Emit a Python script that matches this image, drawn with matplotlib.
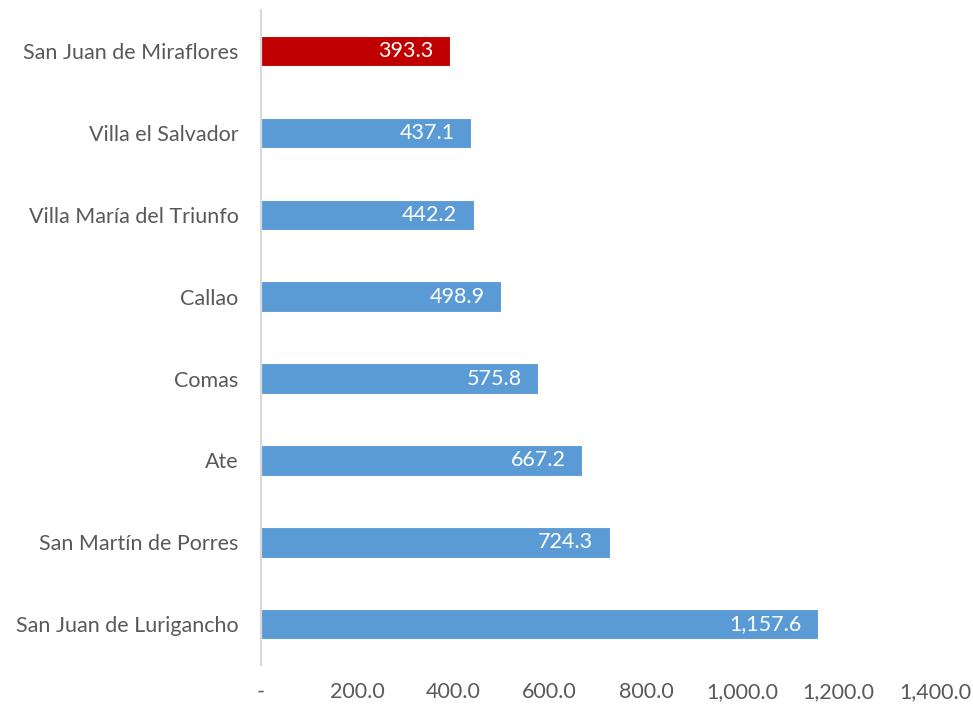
import matplotlib
matplotlib.use("Agg")
import matplotlib.pyplot as plt
from matplotlib.ticker import FuncFormatter

plt.rcParams['font.family'] = ['Lato', 'DejaVu Sans']

categories = ["San Juan de Lurigancho", "San Martín de Porres", "Ate", "Comas",
              "Callao", "Villa María del Triunfo", "Villa el Salvador",
              "San Juan de Miraflores"]
values = [1157.6, 724.3, 667.2, 575.8, 498.9, 442.2, 437.1, 393.3]
highlight = "San Juan de Miraflores"
xticks = [0, 200, 400, 600, 800, 1000, 1200, 1400]

blue = "#5B9BD5"
red = "#C00000"
gray = "#595959"

fig = plt.figure(figsize=(9.73, 7.07), dpi=100)
ax = fig.add_axes([0.268, 0.059, 0.693, 0.927])

colors = [red if c == highlight else blue for c in categories]
ypos = list(range(len(categories)))
bars = ax.barh(ypos, values, height=0.37, color=colors, edgecolor="white", linewidth=0.8)

for y, v in zip(ypos, values):
    ax.annotate(f"{v:,.1f}", xy=(v, y), xytext=(-12, 0), textcoords="offset points",
                ha="right", va="center", color="white", fontsize=15.5)

ax.set_yticks(ypos)
ax.set_yticklabels(categories, fontsize=15.5, color=gray)
ax.set_ylim(-0.5, len(categories) - 0.5)
ax.set_xlim(0, 1400)
ax.set_xticks(xticks)
ax.xaxis.set_major_formatter(FuncFormatter(lambda x, p: "-" if x == 0 else f"{x:,.1f}"))
ax.tick_params(axis="x", length=0, labelsize=15.5, labelcolor=gray, pad=12)
ax.tick_params(axis="y", length=0, pad=16)

for s in ["top", "right", "bottom"]:
    ax.spines[s].set_visible(False)
ax.spines["left"].set_color("#D9D9D9")
ax.spines["left"].set_linewidth(1.5)

fig.savefig("out.png", dpi=100)
